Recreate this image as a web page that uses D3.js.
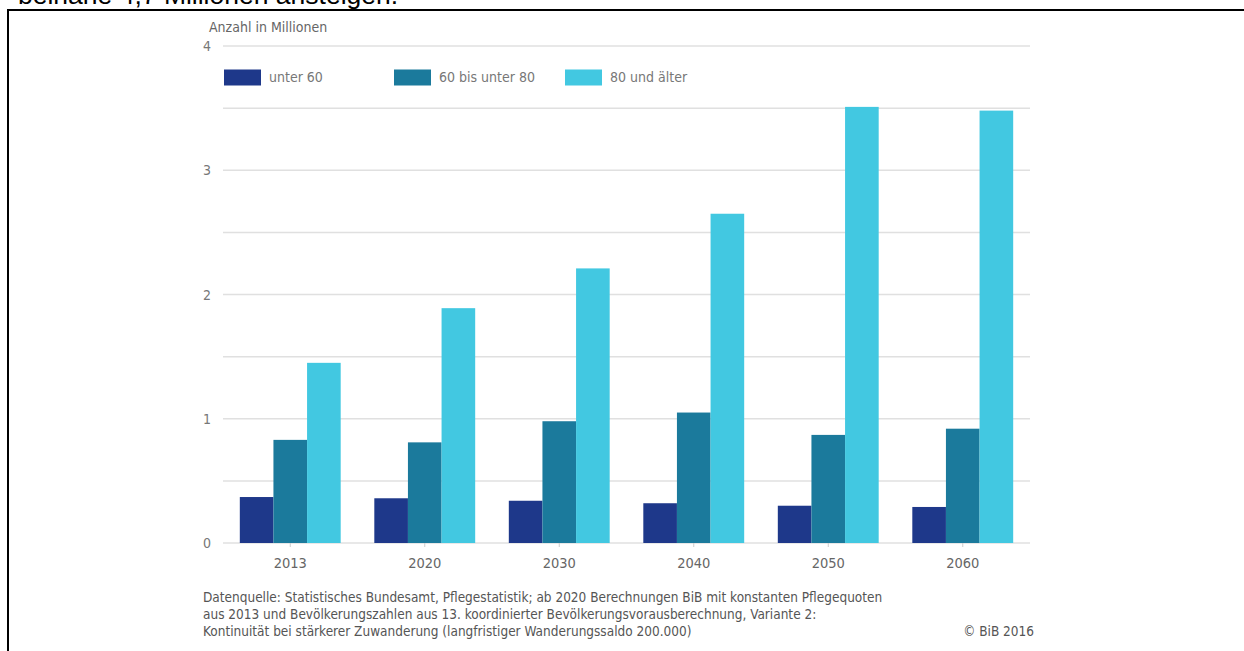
<!DOCTYPE html>
<html><head><meta charset="utf-8">
<script src="https://cdn.jsdelivr.net/npm/d3@7"></script>
<style>
html,body{margin:0;padding:0;background:#fff;overflow:hidden}
svg{display:block}
.t{font-family:"Liberation Sans Narrow","DejaVu Sans Condensed","Roboto Condensed",Roboto,sans-serif}
</style></head>
<body>
<svg id="c" width="1244" height="651"></svg>
<script>
const years = ["2013","2020","2030","2040","2050","2060"];
const seriesNames = ["unter 60","60 bis unter 80","80 und älter"];
const unter60 = [0.37, 0.36, 0.34, 0.32, 0.30, 0.29];
const bis80   = [0.83, 0.81, 0.98, 1.05, 0.87, 0.92];
const ab80    = [1.45, 1.89, 2.21, 2.65, 3.51, 3.48];
const colors  = ["#1e388a","#1b7a9c","#42c8e1"];
const yTicks  = [0,1,2,3,4];
const gridTicks = [0,0.5,1,1.5,2,2.5,3,3.5,4];
const sourceLines = [
  "Datenquelle: Statistisches Bundesamt, Pflegestatistik; ab 2020 Berechnungen BiB mit konstanten Pflegequoten",
  "aus 2013 und Bevölkerungszahlen aus 13. koordinierter Bevölkerungsvorausberechnung, Variante 2:",
  "Kontinuität bei stärkerer Zuwanderung (langfristiger Wanderungssaldo 200.000)"
];
const seriesValues = [unter60, bis80, ab80];

const svg = d3.select("#c");

// heading fragment cut at top
svg.append("text").attr("x",18).attr("y",4)
  .attr("font-family","Liberation Sans, Arial, sans-serif").attr("font-size",26.5)
  .attr("fill","#000").text("beinahe 4,7 Millionen ansteigen.");

// frame
svg.append("line").attr("x1",8).attr("x2",1244).attr("y1",10).attr("y2",10).attr("stroke","#000").attr("stroke-width",2);
svg.append("line").attr("x1",8).attr("x2",8).attr("y1",9).attr("y2",651).attr("stroke","#000").attr("stroke-width",2);

const x0 = d3.scaleBand().domain(years).range([223,1030]).paddingInner(0.25).paddingOuter(0.125);
const x1 = d3.scaleBand().domain(seriesNames).range([0,x0.bandwidth()]);
const y = d3.scaleLinear().domain([0,4]).range([543,46]);

// grid
svg.append("g").selectAll("line").data(gridTicks).join("line")
  .attr("x1",223).attr("x2",1030).attr("y1",d=>y(d)).attr("y2",d=>y(d))
  .attr("stroke","#e0e0e0").attr("stroke-width",1.5);

// y labels
svg.append("g").selectAll("text").data(yTicks).join("text").attr("class","t")
  .attr("x",211).attr("y",d=>y(d)+5).attr("text-anchor","end")
  .attr("font-size",14).attr("fill","#777").text(d=>d);

svg.append("text").attr("class","t").attr("x",209).attr("y",32)
  .attr("font-size",14).attr("fill","#666").text("Anzahl in Millionen");

// bars
const g = svg.append("g");
years.forEach((yr,i)=>{
  seriesNames.forEach((s,j)=>{
    const v = seriesValues[j][i];
    g.append("rect").attr("x",x0(yr)+x1(s)).attr("width",x1.bandwidth())
      .attr("y",y(v)).attr("height",y(0)-y(v)).attr("fill",colors[j]);
  });
});

// x ticks & labels
svg.append("g").selectAll("line").data(years).join("line")
  .attr("x1",d=>x0(d)+x0.bandwidth()/2).attr("x2",d=>x0(d)+x0.bandwidth()/2)
  .attr("y1",543).attr("y2",547).attr("stroke","#ccc");
svg.append("g").selectAll("text").data(years).join("text").attr("class","t")
  .attr("x",d=>x0(d)+x0.bandwidth()/2).attr("y",568).attr("text-anchor","middle")
  .attr("font-size",14.5).attr("fill","#666").text(d=>d);

// legend
const legX = [224,394,565];
seriesNames.forEach((s,j)=>{
  svg.append("rect").attr("x",legX[j]).attr("y",69.5).attr("width",37).attr("height",16).attr("fill",colors[j]);
  svg.append("text").attr("class","t").attr("x",legX[j]+45).attr("y",82)
    .attr("font-size",14).attr("fill","#777").text(s);
});

// source
svg.append("g").selectAll("text").data(sourceLines).join("text").attr("class","t")
  .attr("x",203).attr("y",(d,i)=>602+i*17).attr("font-size",13.5).attr("fill","#555").text(d=>d);
svg.append("text").attr("class","t").attr("x",1034).attr("y",636).attr("text-anchor","end")
  .attr("font-size",13.5).attr("fill","#555").text("© BiB 2016");
</script>
</body></html>
